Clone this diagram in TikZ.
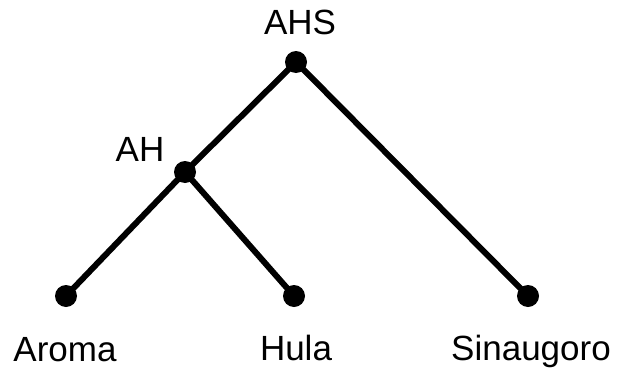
\documentclass[tikz,border=0pt]{standalone}
\usepackage{fontspec}
\setmainfont{Liberation Sans}
\begin{document}
\begin{tikzpicture}[x=1pt,y=1pt,
  dot/.style={circle,fill=black,inner sep=0pt,minimum size=22pt},
  lbl/.style={anchor=base,inner sep=0pt,font=\fontsize{35}{40}\selectfont},
  edge/.style={line width=6pt}]
\useasboundingbox (0,0) rectangle (621,368);
\node[dot] (ahs) at (296,306) {};
\node[dot] (ah) at (185,196) {};
\node[dot] (aroma) at (66,72) {};
\node[dot] (hula) at (294,72) {};
\node[dot] (sin) at (528,72) {};
\node[lbl] (tahs) at (300,334) {AHS};
\node[lbl] (tah) at (140,207) {AH};
\node[lbl] (taroma) at (65,7) {Aroma};
\node[lbl] (thula) at (296,8) {Hula};
\node[lbl] (tsin) at (531,8) {Sinaugoro};
\draw[edge] (ahs.center) -- (ah.center);
\draw[edge] (ahs.center) -- (sin.center);
\draw[edge] (ah.center) -- (aroma.center);
\draw[edge] (ah.center) -- (hula.center);
\end{tikzpicture}
\end{document}
